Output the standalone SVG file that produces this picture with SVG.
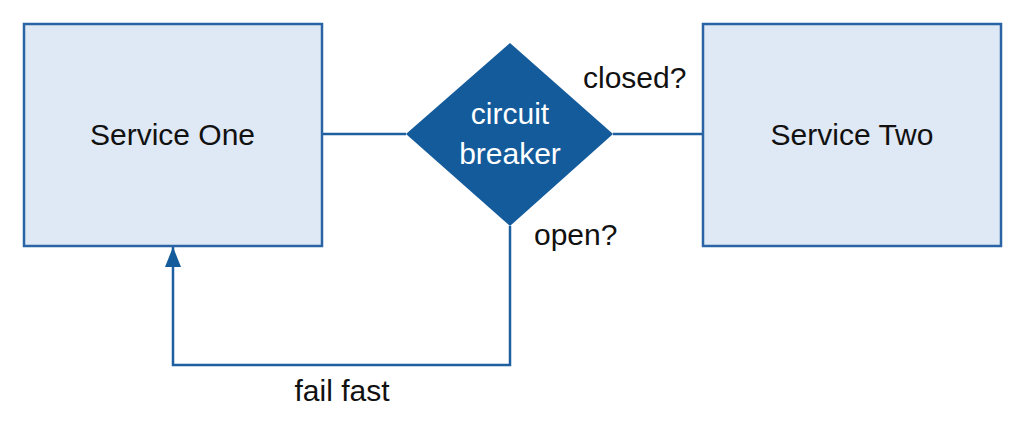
<svg xmlns="http://www.w3.org/2000/svg" width="1025" height="426" viewBox="0 0 1025 426">
<defs>
<style>
.box{fill:#dfe8f5;stroke:#2a64a4;stroke-width:2.5}
.dia{fill:#135b9b}
.conn{fill:none;stroke:#1f5f9f;stroke-width:2.5}
.t{font-family:"Liberation Sans",Arial,sans-serif;font-size:30px;fill:#111}
.w{fill:#ffffff}
</style>
<marker id="arr" viewBox="0 0 20 16" refX="20" refY="8" markerWidth="20" markerHeight="16" markerUnits="userSpaceOnUse" orient="auto">
<path d="M0,0 L20,8 L0,16 Z" fill="#135b9b"/>
</marker>
</defs>
<rect width="1025" height="426" fill="#ffffff"/>
<g id="connectors">
<line class="conn" x1="322" y1="134" x2="406" y2="134"/>
<line class="conn" x1="613" y1="134" x2="703" y2="134"/>
<polyline class="conn" points="510,226 510,365 173,365 173,247" marker-end="url(#arr)"/>
<text class="t" x="583" y="88">closed?</text>
<text class="t" x="534" y="245">open?</text>
<text class="t" x="342" y="401" text-anchor="middle">fail fast</text>
</g>
<g id="service-one">
<rect class="box" x="24" y="24" width="298" height="222"/>
<text class="t" x="172.5" y="145" text-anchor="middle">Service One</text>
</g>
<g id="circuit-breaker">
<polygon class="dia" points="510,43 613,134 510,226 406,134"/>
<text class="t w" x="510" y="124" text-anchor="middle">circuit</text>
<text class="t w" x="510" y="164" text-anchor="middle">breaker</text>
</g>
<g id="service-two">
<rect class="box" x="703" y="24" width="298" height="222"/>
<text class="t" x="852" y="145" text-anchor="middle">Service Two</text>
</g>
</svg>
